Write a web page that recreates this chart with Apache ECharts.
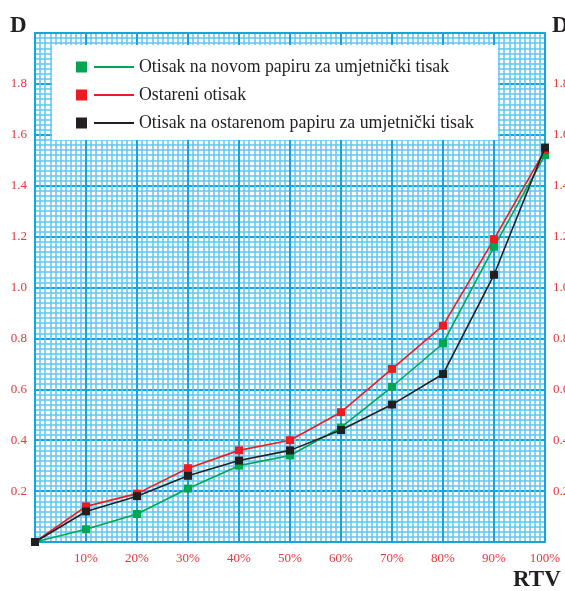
<!DOCTYPE html>
<html>
<head>
<meta charset="utf-8">
<script src="https://cdn.jsdelivr.net/npm/echarts@6/dist/echarts.min.js"></script>
<style>
html,body{margin:0;padding:0;background:#fff;}
#chart{width:565px;height:591px;}
</style>
</head>
<body>
<div id="chart"></div>
<script>
// ---- data ----
var xValues = [0, 10, 20, 30, 40, 50, 60, 70, 80, 90, 100];
var xTickLabels = ['', '10%', '20%', '30%', '40%', '50%', '60%', '70%', '80%', '90%', '100%'];
var yTickLabels = ['', '0.2', '0.4', '0.6', '0.8', '1.0', '1.2', '1.4', '1.6', '1.8', ''];
var seriesNames = [
  'Otisak na novom papiru za umjetnički tisak',
  'Ostareni otisak',
  'Otisak na ostarenom papiru za umjetnički tisak'
];
var greenValues = [0, 0.05, 0.11, 0.21, 0.30, 0.34, 0.45, 0.61, 0.78, 1.16, 1.52];
var redValues   = [0, 0.14, 0.19, 0.29, 0.36, 0.40, 0.51, 0.68, 0.85, 1.19, 1.54];
var blackValues = [0, 0.12, 0.18, 0.26, 0.32, 0.36, 0.44, 0.54, 0.66, 1.05, 1.55];

function pairs(vals) { return xValues.map(function (x, i) { return [x, vals[i]]; }); }

var GRID_MAJOR = '#12A5E0';
var GRID_MINOR = '#5EC6F0';
var LABEL_RED = '#E8353B';
var SERIF = '"Liberation Serif", "DejaVu Serif", serif';

var chart = echarts.init(document.getElementById('chart'), null, {renderer: 'canvas'});

function xLabel(v) { var i = Math.round(v / 10); return xTickLabels[i] || ''; }
function yLabel(v) { var i = Math.round(v / 0.2); return yTickLabels[i] || ''; }

var yAxisCommon = {
  type: 'value', min: 0, max: 2.0, interval: 0.2,
  axisLine: {show: true, lineStyle: {color: GRID_MAJOR, width: 2}},
  axisTick: {show: false},
  minorTick: {show: false, splitNumber: 10},
  splitLine: {show: true, lineStyle: {color: GRID_MAJOR, width: 2}},
  minorSplitLine: {show: true, lineStyle: {color: GRID_MINOR, width: 1.5}},
  axisLabel: {color: LABEL_RED, fontFamily: SERIF, fontSize: 13, margin: 8, formatter: yLabel}
};

var option = {
  animation: false,
  backgroundColor: '#fff',
  grid: {left: 35, right: 20, top: 33, bottom: 49, containLabel: false, outerBoundsMode: 'none'},
  xAxis: [{
    type: 'value', min: 0, max: 100, interval: 10,
    axisLine: {show: true, onZero: false, lineStyle: {color: GRID_MAJOR, width: 2}},
    axisTick: {show: false},
    minorTick: {show: false, splitNumber: 10},
    splitLine: {show: true, lineStyle: {color: GRID_MAJOR, width: 2}},
    minorSplitLine: {show: true, lineStyle: {color: GRID_MINOR, width: 1.5}},
    axisLabel: {color: LABEL_RED, fontFamily: SERIF, fontSize: 13, margin: 10, formatter: xLabel}
  }, {
    type: 'value', min: 0, max: 100, position: 'top',
    axisLine: {show: true, onZero: false, lineStyle: {color: GRID_MAJOR, width: 2}},
    axisTick: {show: false}, axisLabel: {show: false}, splitLine: {show: false}
  }],
  yAxis: [
    Object.assign({}, yAxisCommon, {position: 'left'}),
    Object.assign({}, yAxisCommon, {position: 'right', splitLine: {show: false}, minorSplitLine: {show: false}})
  ],
  legend: {
    orient: 'vertical',
    left: 71, top: 53,
    itemGap: 10,
    itemWidth: 58, itemHeight: 11,
    icon: 'path://M0,0H11V11H0Z M18,4.6H58V6.4H18Z',
    z: 10,
    textStyle: {fontFamily: SERIF, fontSize: 17.8, color: '#231F20'},
    data: seriesNames
  },
  graphic: [
    {type: 'rect', left: 52, top: 45, z: 5, shape: {width: 446, height: 95}, style: {fill: '#fff'}},
    {type: 'text', left: 10, top: 15, z: 10, style: {text: 'D', fontFamily: SERIF, fontWeight: 'bold', fontSize: 23, fill: '#231F20'}},
    {type: 'text', left: 552, top: 15, z: 10, style: {text: 'D', fontFamily: SERIF, fontWeight: 'bold', fontSize: 23, fill: '#231F20'}},
    {type: 'text', left: 513, top: 569, z: 10, style: {text: 'RTV', fontFamily: SERIF, fontWeight: 'bold', fontSize: 23, fill: '#231F20'}}
  ],
  series: [
    {name: seriesNames[0], type: 'line', data: pairs(greenValues), symbol: 'rect', symbolSize: 8,
     itemStyle: {color: '#00A651'}, lineStyle: {color: '#00A651', width: 1.6}, z: 3},
    {name: seriesNames[1], type: 'line', data: pairs(redValues), symbol: 'rect', symbolSize: 8,
     itemStyle: {color: '#ED1C24'}, lineStyle: {color: '#ED1C24', width: 1.6}, z: 3},
    {name: seriesNames[2], type: 'line', data: pairs(blackValues), symbol: 'rect', symbolSize: 8,
     itemStyle: {color: '#231F20'}, lineStyle: {color: '#231F20', width: 1.6}, z: 4}
  ]
};
chart.setOption(option);
</script>
</body>
</html>
